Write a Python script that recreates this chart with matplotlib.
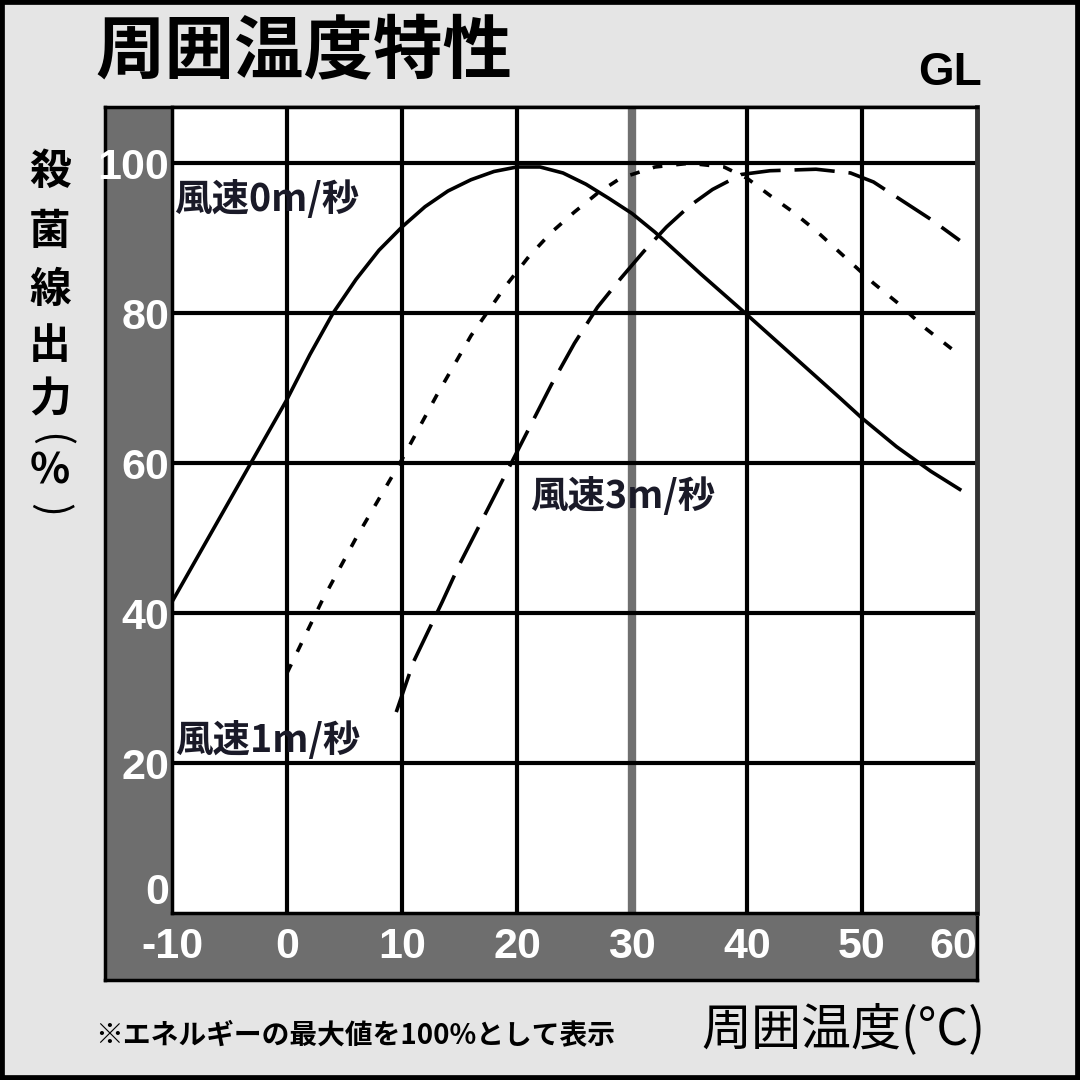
import matplotlib
matplotlib.use('Agg')
import matplotlib.pyplot as plt
from matplotlib.patches import Rectangle

plt.rcParams['lines.scale_dashes'] = False

JP = ['Noto Sans CJK JP', 'DejaVu Sans']
NUM = ['Liberation Sans Narrow', 'Liberation Sans', 'DejaVu Sans']

# 風速0m/秒 (solid)
temp0 = [-10, -5, 0, 2, 4, 6, 8, 10, 12, 14, 16, 18, 20, 22, 24, 26, 28, 30, 32,
         36, 40, 44, 48, 50, 53, 56, 58.5]
out0 = [41.5, 55, 68.5, 74.5, 80, 84.5, 88.4, 91.5, 94.2, 96.3, 97.8, 98.9, 99.5,
        99.5, 98.7, 97.2, 95.3, 93.3, 90.8, 85.2, 79.8, 74.3, 68.8, 66, 62.2, 58.9, 56.5]

# 風速1m/秒 (short dash)
temp1 = [0, 3, 6, 10, 13, 16, 19, 21, 23, 25, 27, 29, 32, 35, 38, 40, 42, 44, 46,
         48.5, 51, 53, 55.5, 58]
out1 = [32, 41.5, 50, 60.5, 69, 77, 83.6, 87.5, 90.8, 93.5, 96, 98, 99.5, 100, 99.5,
        98, 95.7, 93.5, 91, 87.5, 84, 81.5, 78, 75]

# 風速3m/秒 (long dash)
temp3 = [9.5, 11, 13.5, 15, 18.5, 20, 23, 25, 27, 29, 31, 33, 35, 37, 39.5, 42,
         46, 49, 51, 53.5, 56, 58.5]
out3 = [26.8, 33.5, 41.5, 46.5, 57, 61.5, 70.5, 76, 80.8, 84.6, 88.2, 91.5, 94.3,
        96.5, 98.5, 99, 99.2, 98.7, 97.5, 95, 92.5, 89.7]

x_ticks = [-10, 0, 10, 20, 30, 40, 50, 60]
y_ticks = [0, 20, 40, 60, 80, 100]
ylabel_chars = ['殺', '菌', '線', '出', '力']

W = 1080.0

fig = plt.figure(figsize=(10.8, 10.8), dpi=100, facecolor='#e5e5e5')
fig.patches.append(Rectangle((0, 0), 1, 1, transform=fig.transFigure,
                             fill=False, edgecolor='black', lw=7))

# dark strip behind the tick labels
bg = fig.add_axes([105 / W, 1 - 980 / W, (977 - 105) / W, (980 - 107) / W])
bg.set_facecolor('#6e6e6e')
bg.set_xticks([])
bg.set_yticks([])
for s in bg.spines.values():
    s.set_color('black')
    s.set_linewidth(2.5)

ax = fig.add_axes([172 / W, 1 - 913 / W, 805 / W, 806 / W])
ax.set_facecolor('white')
ax.set_xlim(-10, 60)
ax.set_ylim(0, 107.5)

# grid
ax.axvline(30, color='#707070', lw=6, zorder=1)
for v in [0, 10, 20, 40, 50]:
    ax.axvline(v, color='black', lw=3, zorder=1.5)
for h in [20, 40, 60, 80, 100]:
    ax.axhline(h, color='black', lw=3, zorder=1.5)

ax.plot(temp0, out0, color='black', lw=2.6, zorder=3)
ax.plot(temp1, out1, color='black', lw=2.6, dashes=(7, 10), zorder=3)
ax.plot(temp3, out3, color='black', lw=2.6, dashes=(29, 10), zorder=3)

ax.text(-9.8, 95.1, '風速0m/秒', family=JP, fontsize=27, weight='bold',
        color='#1a1a28', va='center', ha='left', zorder=4)
ax.text(-9.7, 23.0, '風速1m/秒', family=JP, fontsize=27, weight='bold',
        color='#1a1a28', va='center', ha='left', zorder=4)
ax.text(21.1, 55.5, '風速3m/秒', family=JP, fontsize=27, weight='bold',
        color='#1a1a28', va='center', ha='left', zorder=4)

for s in ['top', 'left', 'bottom']:
    ax.spines[s].set_color('black')
    ax.spines[s].set_linewidth(2.5)
ax.spines['right'].set_color('#333333')
ax.spines['right'].set_linewidth(3.5)

ax.set_xticks(x_ticks)
ax.set_xticklabels([str(t) for t in x_ticks], family=NUM, fontsize=31,
                   color='white', weight='bold')
ax.set_yticks(y_ticks)
ax.set_yticklabels([str(t) for t in y_ticks], family=NUM, fontsize=31,
                   color='white', weight='bold')
ax.tick_params(axis='x', length=0, pad=10)
ax.tick_params(axis='y', length=0, pad=2)
ax.get_xticklabels()[-1].set_ha('right')
ax.get_yticklabels()[0].set_va('bottom')

fig.text(95 / W, 1 - 52 / W, '周囲温度特性', family=JP, fontsize=50,
         weight='bold', va='center', ha='left')
fig.text(982 / W, 1 - 85 / W, 'GL', family=['Liberation Sans', 'DejaVu Sans'],
         fontsize=33, weight='bold', ha='right', va='baseline')

# vertical y label, one character per line
ys = [172, 232, 290, 346, 400]
for ch, yy in zip(ylabel_chars, ys):
    fig.text(50 / W, 1 - yy / W, ch, family=JP, fontsize=30, weight='bold',
             ha='center', va='center')
fig.text(50 / W, 1 - 440 / W, '(', family=JP, fontsize=30, rotation=-90,
         ha='center', va='center')
fig.text(50 / W, 1 - 471 / W, '%', family=JP, fontsize=30, weight='bold',
         ha='center', va='center')
fig.text(50 / W, 1 - 510 / W, ')', family=JP, fontsize=30, rotation=-90,
         ha='center', va='center')

fig.text(95 / W, 1 - 1035 / W, '※エネルギーの最大値を100%として表示', family=JP,
         fontsize=20, weight='bold', va='center', ha='left')
fig.text(985 / W, 1 - 1030 / W, '周囲温度(°C)', family=JP, fontsize=36,
         va='center', ha='right')

fig.savefig('out.png', dpi=100, facecolor=fig.get_facecolor())
